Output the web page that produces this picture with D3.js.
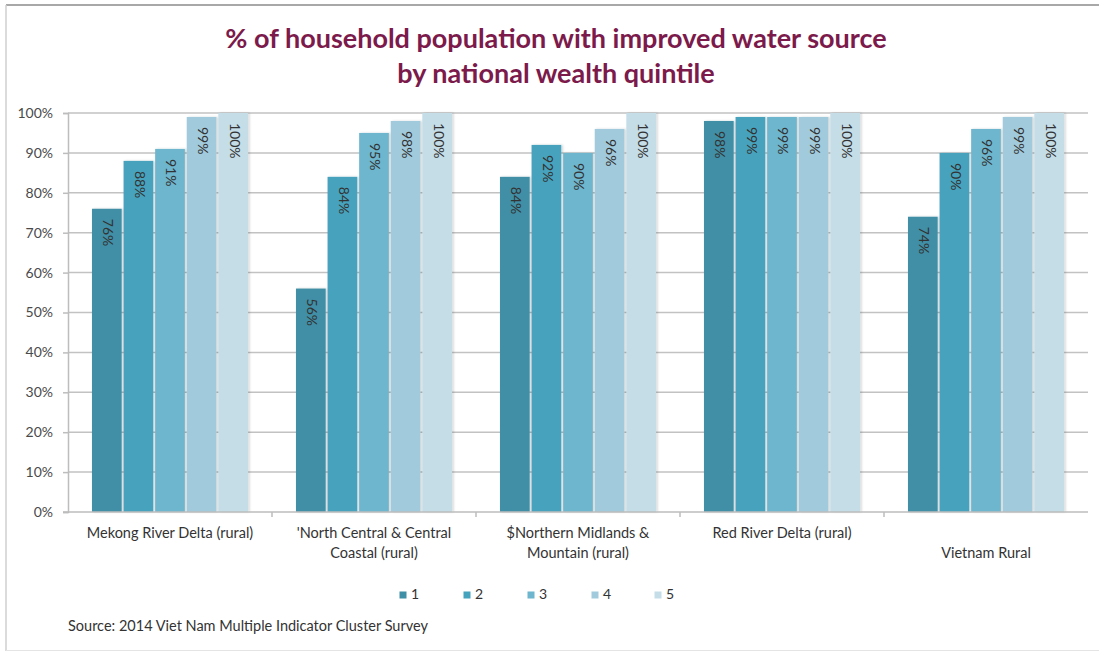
<!DOCTYPE html>
<html>
<head>
<meta charset="utf-8">
<script src="https://cdn.jsdelivr.net/npm/d3@7"></script>
<style>
  html, body { margin: 0; padding: 0; background: #fff; }
  svg { display: block; font-family: Lato, "Open Sans", sans-serif; }
</style>
</head>
<body>
<svg id="chart" width="1099" height="652"></svg>
<script>
// Regions (line breaks split the axis labels)
const categories = [
  "Mekong River Delta (rural)",
  "'North Central & Central\nCoastal (rural)",
  "$Northern Midlands &\nMountain (rural)",
  "Red River Delta (rural)",
  "\nVietnam Rural"
];
// Wealth quintiles
const quintiles = ["1", "2", "3", "4", "5"];
// Percent of households with an improved water source, by quintile
const q1 = [76, 56, 84, 98, 74];
const q2 = [88, 84, 92, 99, 90];
const q3 = [91, 95, 90, 99, 96];
const q4 = [99, 98, 96, 99, 99];
const q5 = [100, 100, 100, 100, 100];
const yTicks = [0, 10, 20, 30, 40, 50, 60, 70, 80, 90, 100];
const colors = ["#3f8fa6", "#46a3bd", "#6db6cd", "#a1cbdc", "#c4dde7"];

const series = [q1, q2, q3, q4, q5];

const svg = d3.select("#chart");

// Frame
svg.append("line").attr("x1", 6).attr("x2", 1099).attr("y1", 5).attr("y2", 5)
  .attr("stroke", "#a8a8a8").attr("stroke-width", 2);
svg.append("line").attr("x1", 6).attr("x2", 6).attr("y1", 5).attr("y2", 651)
  .attr("stroke", "#cfcfcf").attr("stroke-width", 1.5);
svg.append("line").attr("x1", 6).attr("x2", 1099).attr("y1", 650.5).attr("y2", 650.5)
  .attr("stroke", "#e4e4e4").attr("stroke-width", 1);

// Title
const title = svg.append("text")
  .attr("x", 556).attr("text-anchor", "middle")
  .attr("fill", "#7b1a4b").attr("font-weight", "bold").attr("font-size", 27);
title.append("tspan").attr("x", 556).attr("y", 48).text("% of household population with improved water source");
title.append("tspan").attr("x", 556).attr("y", 83).text("by national wealth quintile");

const x0 = d3.scaleBand().domain(categories).range([68, 1088])
  .paddingInner(0.235).paddingOuter(0.1175);
const x1 = d3.scaleBand().domain(quintiles).range([0, x0.bandwidth()]).paddingInner(0.06);
const y = d3.scaleLinear().domain([0, 100]).range([512, 113]);

// Gridlines
svg.append("g").selectAll("line").data(yTicks.filter(d => d > 0)).join("line")
  .attr("x1", 68).attr("x2", 1088)
  .attr("y1", d => y(d)).attr("y2", d => y(d))
  .attr("stroke", "#c2c2c2").attr("stroke-width", 1.5);

// Y axis
const yAxis = svg.append("g").attr("transform", "translate(68,0)")
  .call(d3.axisLeft(y).tickValues(yTicks).tickSize(5).tickPadding(10).tickFormat(d => d + "%"));
yAxis.select(".domain").attr("stroke", "#bdbdbd").attr("stroke-width", 1.5);
yAxis.selectAll(".tick line").attr("stroke", "#bdbdbd").attr("stroke-width", 1.5);
yAxis.selectAll("text").attr("fill", "#4a4a4a").attr("font-size", 14).attr("font-family", "Lato, sans-serif");

// Bars
const shadow = svg.append("defs").append("filter").attr("id", "sh")
  .attr("x", "-20%").attr("y", "-5%").attr("width", "140%").attr("height", "110%");
shadow.append("feDropShadow").attr("dx", 1.5).attr("dy", 0).attr("stdDeviation", 1.2)
  .attr("flood-color", "#000").attr("flood-opacity", 0.18);

const groups = svg.append("g").selectAll("g").data(categories).join("g")
  .attr("transform", d => `translate(${x0(d)},0)`);

groups.each(function(cat, ci) {
  const g = d3.select(this);
  const rows = quintiles.map((q, qi) => ({ q, qi, v: series[qi][ci] }));
  g.selectAll("rect").data(rows).join("rect")
    .attr("x", d => x1(d.q)).attr("width", x1.bandwidth())
    .attr("y", d => y(d.v)).attr("height", d => y(0) - y(d.v))
    .attr("fill", d => colors[d.qi])
    .attr("filter", "url(#sh)");
  g.selectAll("text").data(rows).join("text")
    .attr("transform", d => `translate(${x1(d.q) + x1.bandwidth() / 2},${y(d.v) + 10}) rotate(90)`)
    .attr("dominant-baseline", "middle")
    .attr("fill", "#333").attr("font-size", 14)
    .text(d => d.v + "%");
});

// X axis
const xAxis = svg.append("g").attr("transform", "translate(0,512)");
xAxis.append("line").attr("x1", 63).attr("x2", 1088).attr("y1", 0).attr("y2", 0)
  .attr("stroke", "#bdbdbd").attr("stroke-width", 1.5);
const step = x0.step();
xAxis.selectAll(".tk").data(d3.range(1, categories.length)).join("line")
  .attr("class", "tk")
  .attr("x1", i => 68 + i * step).attr("x2", i => 68 + i * step)
  .attr("y1", 0).attr("y2", 5)
  .attr("stroke", "#bdbdbd").attr("stroke-width", 1.5);

const xl = svg.append("g").selectAll("text").data(categories).join("text")
  .attr("text-anchor", "middle").attr("fill", "#333").attr("font-size", 14.5);
xl.each(function(d) {
  const t = d3.select(this);
  const cx = x0(d) + x0.bandwidth() / 2;
  d.split("\n").forEach((line, i) => {
    t.append("tspan").attr("x", cx).attr("y", 538 + i * 20).text(line);
  });
});

// Legend
const legendX = [403, 467, 531, 595, 658];
const lg = svg.append("g").selectAll("g").data(quintiles).join("g")
  .attr("transform", (d, i) => `translate(${legendX[i]},595)`);
lg.append("rect").attr("x", -3.5).attr("y", -3.5).attr("width", 7).attr("height", 7)
  .attr("fill", (d, i) => colors[i]);
lg.append("text").attr("x", 8).attr("y", 0).attr("dominant-baseline", "middle")
  .attr("fill", "#333").attr("font-size", 14).text(d => d);

// Source note
svg.append("text").attr("x", 68).attr("y", 631).attr("fill", "#333").attr("font-size", 14.5)
  .text("Source: 2014 Viet Nam Multiple Indicator Cluster Survey");
</script>
</body>
</html>
